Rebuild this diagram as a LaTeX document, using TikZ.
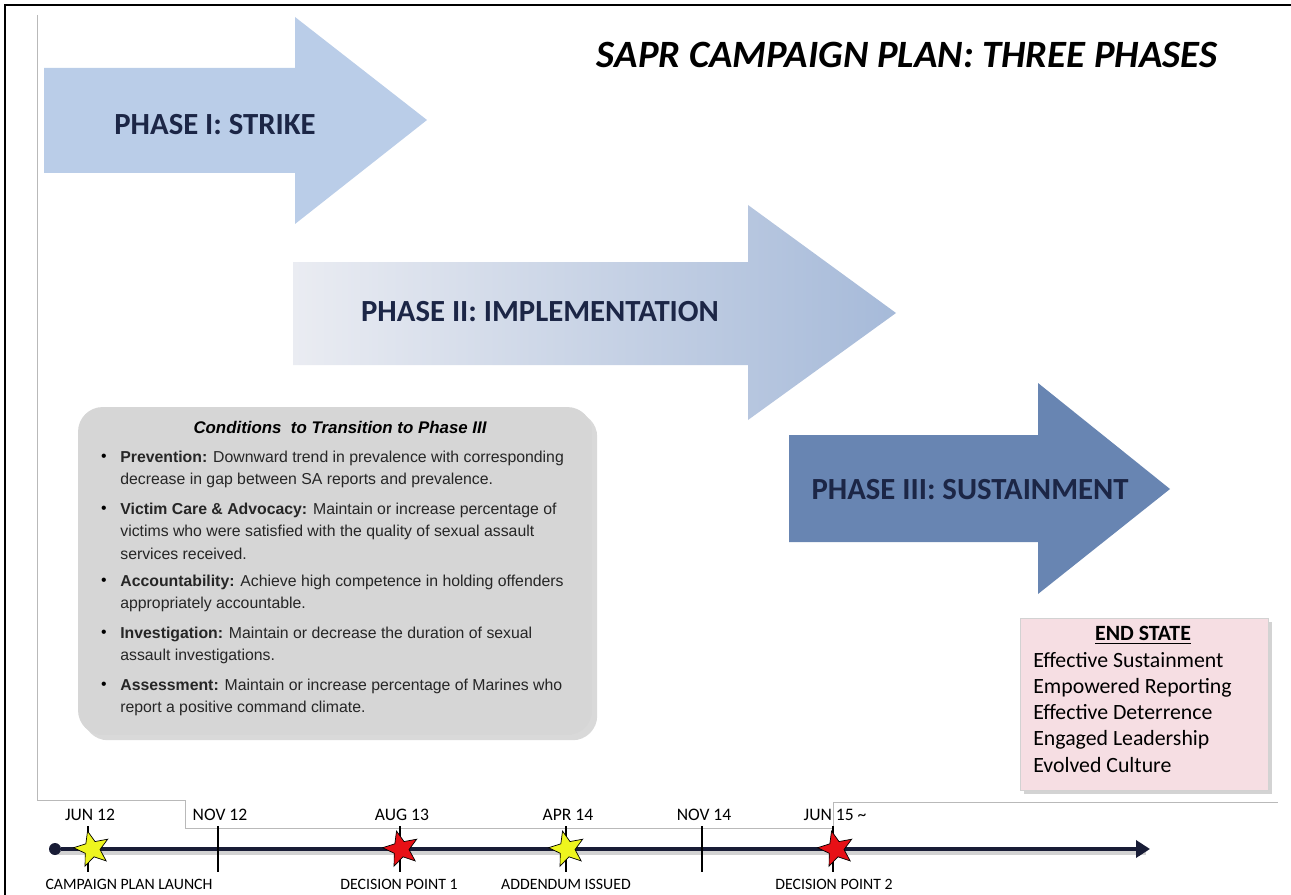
\documentclass[tikz,border=0pt]{standalone}
\usepackage{fontspec}
\setmainfont{Carlito}
\newfontfamily\arialfont{Liberation Sans}
\usepackage{tikz}
\usetikzlibrary{positioning, arrows.meta, shapes.geometric, shadows}
\definecolor{marino}{RGB}{28, 38, 70}
\definecolor{azulclaro}{RGB}{186, 205, 232}
\definecolor{azulgris}{RGB}{166, 186, 217}
\definecolor{blancogris}{RGB}{234, 236, 242}
\definecolor{azulacero}{RGB}{104, 133, 178}
\definecolor{grisbox}{RGB}{214, 214, 214}
\definecolor{rosa}{RGB}{246, 222, 227}
\definecolor{amarillo}{RGB}{238, 245, 30}
\definecolor{rojo}{RGB}{232, 16, 22}
\definecolor{linea}{RGB}{24, 28, 54}
\tikzset{
    phasetxt/.style={text=marino, font=\bfseries\fontsize{17.5}{20}\selectfont, inner sep=0pt},
    condtxt/.style={font=\arialfont\fontsize{9}{12.6}\selectfont, align=left, inner sep=0pt, text=black!85},
    bala/.style={font=\arialfont\fontsize{9}{11}\selectfont, inner sep=0pt},
    endtxt/.style={font=\fontsize{12.4}{14.9}\selectfont, align=left, inner sep=0pt},
    datelbl/.style={font=\fontsize{10}{12}\selectfont, inner sep=0pt},
    eventlbl/.style={font=\fontsize{9}{11}\selectfont, inner sep=0pt},
    tick/.style={draw=black, line width=1.1pt},
    estrella/.style={star, star points=5, star point ratio=2.3, draw=black, thin, minimum size=0.74cm, inner sep=0pt, rotate=14},
    marco/.style={draw=gray!55, line width=0.5pt},
}

\begin{document}
\begin{tikzpicture}[x=0.02cm, y=-0.02cm]
    \useasboundingbox (0,0) rectangle (1291,895);
    \draw[black, line width=1.2pt] (5,895) -- (5,5) -- (1291,5);
    \draw[marco] (37,15) -- (37,800) -- (185,800) -- (185,828) -- (833,828) -- (833,802) -- (1278,802);

    \node[font=\bfseries\itshape\fontsize{22}{26}\selectfont] (titulo) at (907,55) {SAPR CAMPAIGN PLAN: THREE PHASES};

    \fill[azulclaro] (44,68) -- (295,68) -- (295,17) -- (427,120) -- (295,224) -- (295,173) -- (44,173) -- cycle;
    \node[phasetxt] (f1) at (215,125) {PHASE I: STRIKE};

    \shade[left color=blancogris, right color=azulgris] (293,262) -- (748,262) -- (748,205) -- (896,313) -- (748,420) -- (748,365) -- (293,365) -- cycle;
    \node[phasetxt] (f2) at (540,312) {PHASE II: IMPLEMENTATION};

    \fill[azulacero] (789,435) -- (1038,435) -- (1038,383) -- (1170,489) -- (1038,594) -- (1038,542) -- (789,542) -- cycle;
    \node[phasetxt] (f3) at (970,490) {PHASE III: SUSTAINMENT};

    \node[fill=grisbox, rounded corners=14pt, minimum width=10.28cm, minimum height=6.56cm,
          drop shadow={shadow xshift=3pt, shadow yshift=-3pt, opacity=0.3}] (cond) at (335,571) {};
    \node[font=\arialfont\bfseries\itshape\fontsize{9.6}{11}\selectfont, inner sep=0pt] (condtit) at (340,427) {Conditions\ \ to Transition to Phase III};

    \node[bala] (b1) at (104,458) {\textbullet};
    \node[condtxt, anchor=north west] (c1) at (120,451) {\textbf{Prevention:} Downward trend in prevalence with corresponding\\decrease in gap between SA reports and prevalence.};
    \node[bala] (b2) at (104,510) {\textbullet};
    \node[condtxt, anchor=north west] (c2) at (120,503) {\textbf{Victim Care \& Advocacy:} Maintain or increase percentage of\\victims who were satisfied with the quality of sexual assault\\services received.};
    \node[bala] (b3) at (104,582) {\textbullet};
    \node[condtxt, anchor=north west] (c3) at (120,575) {\textbf{Accountability:} Achieve high competence in holding offenders\\appropriately accountable.};
    \node[bala] (b4) at (104,634) {\textbullet};
    \node[condtxt, anchor=north west] (c4) at (120,627) {\textbf{Investigation:} Maintain or decrease the duration of sexual\\assault investigations.};
    \node[bala] (b5) at (104,686) {\textbullet};
    \node[condtxt, anchor=north west] (c5) at (120,679) {\textbf{Assessment:} Maintain or increase percentage of Marines who\\report a positive command climate.};

    \node[fill=rosa, draw=gray!35, minimum width=4.96cm, minimum height=3.44cm,
          drop shadow={shadow xshift=2pt, shadow yshift=-2pt, opacity=0.35}] (fin) at (1144,704) {};
    \node[font=\bfseries\fontsize{12.4}{14}\selectfont, inner sep=0pt] (fintit) at (1143,635) {\underline{END STATE}};
    \node[endtxt, anchor=north west] (finlst) at (1033,652) {Effective Sustainment\\Empowered Reporting\\Effective Deterrence\\Engaged Leadership\\Evolved Culture};

    \coordinate (t0) at (55,849);
    \coordinate (tfin) at (1150,849);
    \draw[gray!35, line width=2pt] (58,853) -- (1146,853);
    \node[circle, fill=linea, minimum size=0.24cm, inner sep=0pt] (ini) at (t0) {};
    \draw[linea, line width=2pt, -{Triangle[length=0.28cm, width=0.34cm]}] (ini) -- (tfin);

    \foreach \x/\fecha/\nom in {88/JUN 12/d1, 218/NOV 12/d2, 400/AUG 13/d3, 566/APR 14/d4, 702/NOV 14/d5, 833/JUN 15 \textasciitilde/d6}{
        \draw[tick] (\x,826) -- (\x,872);
        \node[datelbl] (\nom) at (\x+2,815) {\fecha};
    }

    \node[estrella, fill=amarillo] (s1) at (92,849) {};
    \node[estrella, fill=rojo] (s2) at (401,849) {};
    \node[estrella, fill=amarillo] (s3) at (567,849) {};
    \node[estrella, fill=rojo] (s4) at (836,849) {};

    \node[eventlbl] (e1) at (129,884) {CAMPAIGN PLAN LAUNCH};
    \node[eventlbl] (e2) at (399,884) {DECISION POINT 1};
    \node[eventlbl] (e3) at (566,884) {ADDENDUM ISSUED};
    \node[eventlbl] (e4) at (834,884) {DECISION POINT 2};
\end{tikzpicture}
\end{document}
